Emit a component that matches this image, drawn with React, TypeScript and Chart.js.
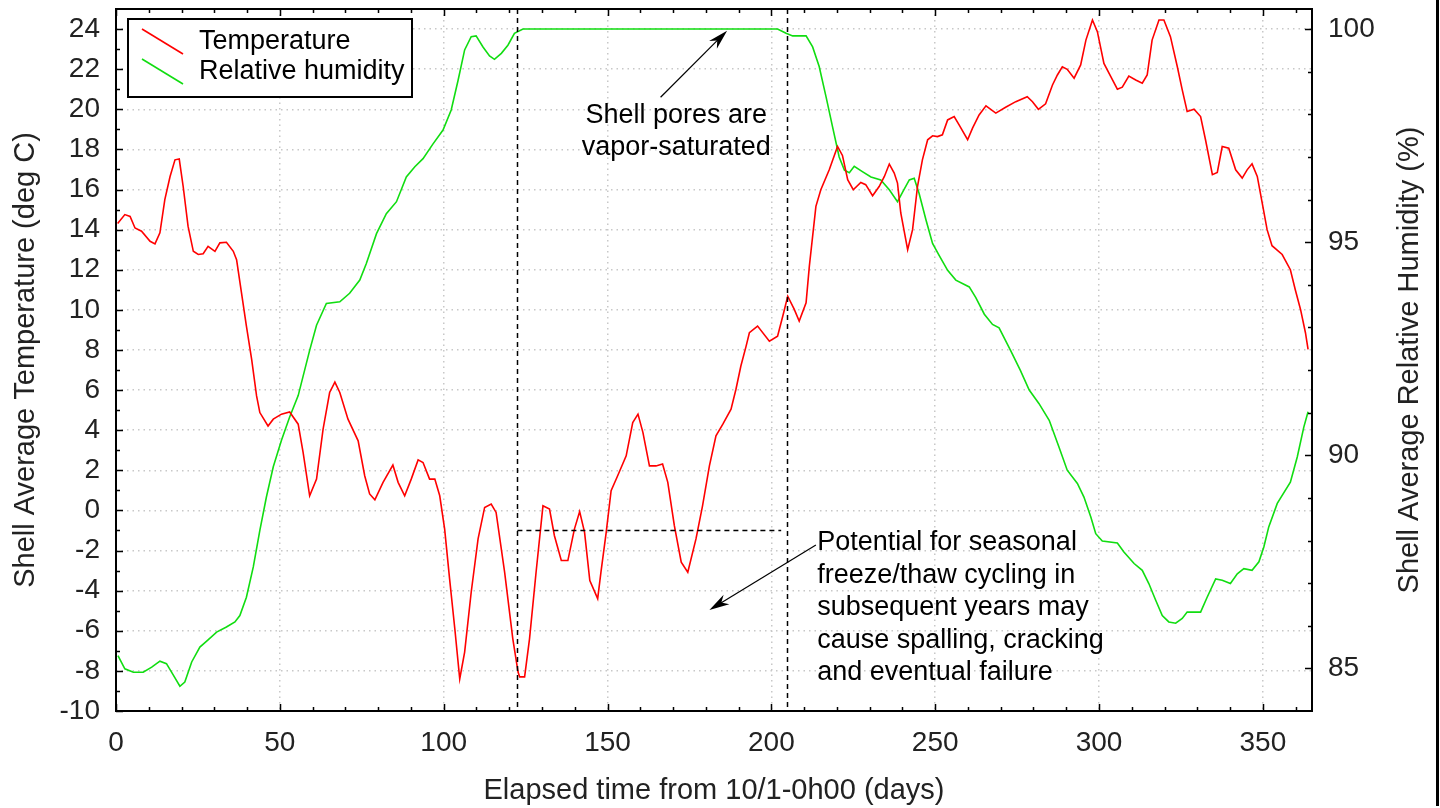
import React, { useEffect, useRef } from "react";
import { Chart, registerables } from "chart.js";

Chart.register(...registerables);

// ---------- data ----------
const tempDays = [
  0.5, 2.7, 4.3, 5.8, 7.8, 10.4, 11.9, 13.4, 14.9, 16.5, 18.0, 19.3, 20.5, 22.0, 23.6, 25.1, 26.6, 28.1, 30.2, 31.7,
  33.7, 35.8, 36.8, 38.3, 39.8, 41.4, 42.9, 43.9, 46.4, 48.0, 50.5, 53.0, 55.6, 57.1, 59.1, 61.2, 63.2, 65.2, 66.8, 68.3,
  70.8, 73.9, 75.9, 77.4, 79.0, 81.5, 84.5, 86.1, 88.1, 90.1, 92.2, 93.7, 95.7, 97.3, 98.8, 100.3, 101.8, 103.4, 104.9, 106.4,
  108.4, 110.5, 112.5, 114.5, 116.0, 118.6, 121.1, 122.7, 123.2, 124.7, 126.2, 128.2, 130.3, 132.3, 133.8, 135.9, 137.9, 139.9, 141.5, 143.0,
  144.6, 147.0, 148.0, 149.6, 151.1, 153.1, 155.7, 157.7, 159.3, 160.8, 162.8, 164.8, 166.8, 168.4, 170.4, 172.5, 174.5, 177.0, 179.0, 181.1,
  183.1, 185.2, 187.7, 189.2, 190.7, 192.3, 193.3, 195.8, 199.4, 201.9, 203.5, 205.0, 207.0, 208.5, 210.6, 211.6, 213.6, 215.1, 217.7, 220.2,
  221.7, 223.3, 225.0, 227.3, 228.8, 230.9, 232.9, 234.5, 236.0, 237.5, 238.5, 239.5, 241.6, 243.1, 244.6, 246.1, 247.7, 249.2, 250.7, 252.2,
  253.8, 255.8, 257.3, 259.9, 261.4, 263.4, 265.5, 268.5, 271.5, 274.6, 278.1, 279.7, 281.5, 283.7, 285.8, 287.3, 288.8, 290.3, 292.4, 294.4,
  296.0, 298.0, 299.5, 301.5, 303.6, 305.6, 307.1, 309.1, 311.2, 313.2, 314.7, 316.2, 318.3, 319.8, 321.8, 323.9, 325.4, 326.9, 329.0, 331.0,
  332.5, 334.6, 336.1, 337.6, 339.6, 341.7, 343.7, 345.2, 346.7, 348.3, 349.8, 351.3, 352.8, 355.9, 358.4, 359.9, 361.5, 363.0, 363.8,
];
const tempValues = [
  14.3, 14.75, 14.66, 14.08, 13.92, 13.42, 13.29, 13.84, 15.5, 16.65, 17.48, 17.52, 16.15, 14.16, 12.92, 12.76, 12.8, 13.17, 12.92, 13.34,
  13.37, 12.92, 12.5, 10.85, 9.19, 7.53, 5.71, 4.88, 4.21, 4.55, 4.8, 4.91, 4.3, 2.89, 0.73, 1.56, 4.05, 5.88, 6.4, 5.88,
  4.55, 3.47, 1.73, 0.82, 0.53, 1.4, 2.26, 1.4, 0.73, 1.56, 2.52, 2.39, 1.56, 1.56, 0.73, -0.93, -3.4, -5.9, -8.4, -7.06,
  -4.08, -1.42, 0.15, 0.32, -0.1, -3.08, -6.4, -8.06, -8.3, -8.3, -6.4, -3.08, 0.23, 0.07, -1.26, -2.5, -2.5, -0.93, -0.06, -1.09,
  -3.5, -4.4, -3.08, -1.09, 0.98, 1.73, 2.72, 4.38, 4.8, 3.89, 2.22, 2.22, 2.31, 1.4, -0.76, -2.58, -3.08, -1.42, 0.23, 2.22,
  3.72, 4.3, 5.05, 6.04, 7.2, 8.19, 8.86, 9.19, 8.44, 8.69, 9.69, 10.68, 10.02, 9.44, 10.35, 12.18, 15.16, 15.99, 17.0, 18.15,
  17.7, 16.49, 15.99, 16.35, 16.24, 15.69, 16.15, 16.65, 17.27, 16.82, 16.32, 14.83, 13.0, 14.0, 16.15, 17.48, 18.48, 18.68, 18.64, 18.73,
  19.47, 19.64, 19.22, 18.48, 19.06, 19.72, 20.17, 19.81, 20.1, 20.38, 20.63, 20.38, 20.0, 20.27, 21.21, 21.71, 22.12, 21.99, 21.55, 22.21,
  23.45, 24.45, 23.87, 22.29, 21.63, 21.0, 21.1, 21.66, 21.46, 21.3, 21.71, 23.45, 24.45, 24.45, 23.62, 22.12, 20.97, 19.89, 20.0, 19.64,
  18.48, 16.74, 16.85, 18.14, 18.06, 16.98, 16.57, 16.98, 17.28, 16.65, 15.33, 14.0, 13.2, 12.76, 12.0, 11.0, 10.02, 8.86, 8.03,
];

const rhDays = [
  0.6, 2.7, 5.3, 8.3, 10.9, 13.4, 15.4, 17.5, 19.5, 21.0, 23.1, 25.6, 28.1, 30.7, 33.7, 36.3, 37.8, 39.8, 41.9, 43.9,
  45.9, 48.0, 50.5, 53.0, 55.6, 59.1, 61.2, 64.2, 68.3, 71.3, 74.4, 76.4, 79.5, 82.5, 85.6, 88.6, 91.2, 93.7, 96.7, 99.8,
  102.3, 104.4, 106.4, 108.4, 109.9, 112.0, 114.0, 115.5, 117.6, 119.6, 121.6, 124.2, 201.9, 204.5, 206.5, 210.6, 212.6, 214.6, 216.7, 218.7,
  220.7, 222.3, 223.8, 225.3, 227.9, 230.4, 233.4, 236.0, 238.5, 240.1, 242.1, 243.6, 245.1, 247.2, 249.2, 251.2, 253.8, 256.3, 260.4, 262.4,
  265.0, 267.5, 269.5, 273.0, 276.0, 278.7, 281.7, 284.8, 287.8, 290.3, 293.4, 295.4, 297.5, 299.0, 301.0, 305.6, 307.6, 310.7, 313.2, 315.2,
  317.3, 319.3, 321.3, 323.4, 325.4, 326.9, 331.0, 333.0, 335.6, 337.6, 340.1, 342.2, 344.2, 346.7, 348.8, 350.3, 351.8, 354.4, 358.4, 360.5,
  362.5, 363.8,
];
const rhValues = [
  85.3, 84.99, 84.91, 84.91, 85.03, 85.17, 85.11, 84.84, 84.58, 84.68, 85.15, 85.5, 85.67, 85.85, 85.97, 86.09, 86.24, 86.67, 87.38, 88.24,
  89.02, 89.73, 90.35, 90.9, 91.4, 92.46, 93.05, 93.56, 93.6, 93.8, 94.11, 94.5, 95.2, 95.67, 95.95, 96.53, 96.77, 96.96, 97.3, 97.63,
  98.1, 98.8, 99.51, 99.82, 99.84, 99.58, 99.37, 99.29, 99.43, 99.62, 99.9, 100, 100, 99.9, 99.84, 99.84, 99.58, 99.12, 98.41, 97.7,
  97.0, 96.69, 96.63, 96.78, 96.65, 96.53, 96.46, 96.23, 95.95, 96.18, 96.46, 96.5, 96.14, 95.52, 94.97, 94.69, 94.34, 94.11, 93.95, 93.7,
  93.31, 93.07, 92.99, 92.46, 91.99, 91.53, 91.21, 90.82, 90.19, 89.65, 89.34, 89.02, 88.55, 88.16, 87.99, 87.94, 87.73, 87.46, 87.3, 86.99,
  86.6, 86.24, 86.09, 86.06, 86.17, 86.32, 86.32, 86.67, 87.1, 87.07, 86.99, 87.22, 87.34, 87.3, 87.5, 87.85, 88.32, 88.87, 89.37, 89.96,
  90.66, 91.02,
];

const xTickValues = [0, 50, 100, 150, 200, 250, 300, 350];
const tempTickValues = [-10, -8, -6, -4, -2, 0, 2, 4, 6, 8, 10, 12, 14, 16, 18, 20, 22, 24];
const rhTickValues = [85, 90, 95, 100];

const seriesLabels = ["Temperature", "Relative humidity"];
const xTitle = "Elapsed time from 10/1-0h00 (days)";
const yTitle = "Shell Average Temperature (deg C)";
const y2Title = "Shell Average Relative Humidity (%)";

// annotation anchors (data units)
const saturatedStart = 122.5;
const saturatedEnd = 204.7;
const freezeLevel = -1;
const freezeLineEnd = 203;
const note1Lines = ["Shell pores are", "vapor-saturated"];
const note1Anchor = { x: 171, y: 19.7 };
const note1Arrow = { fromX: 166.2, fromY: 20.6, toX: 186.5, toY: 23.92 };
const note2Lines = [
  "Potential for seasonal",
  "freeze/thaw cycling in",
  "subsequent years may",
  "cause spalling, cracking",
  "and eventual failure",
];
const note2Anchor = { x: 214, y: -1.62 };
const note2Arrow = { fromX: 213.6, fromY: -1.72, toX: 181.1, toY: -4.96 };

const FONT = "'Liberation Sans', Arial, sans-serif";
const RED = "#ff0000";
const GREEN = "#11dd11";

function drawArrow(ctx: CanvasRenderingContext2D, x1: number, y1: number, x2: number, y2: number) {
  const ang = Math.atan2(y2 - y1, x2 - x1);
  const len = 20;
  const hw = 5.5;
  ctx.save();
  ctx.strokeStyle = "#000";
  ctx.fillStyle = "#000";
  ctx.lineWidth = 1.2;
  ctx.beginPath();
  ctx.moveTo(x1, y1);
  ctx.lineTo(x2 - Math.cos(ang) * len * 0.6, y2 - Math.sin(ang) * len * 0.6);
  ctx.stroke();
  const bx = x2 - Math.cos(ang) * len;
  const by = y2 - Math.sin(ang) * len;
  const nx = -Math.sin(ang);
  const ny = Math.cos(ang);
  const mx = x2 - Math.cos(ang) * len * 0.7;
  const my = y2 - Math.sin(ang) * len * 0.7;
  ctx.beginPath();
  ctx.moveTo(x2, y2);
  ctx.lineTo(bx + nx * hw, by + ny * hw);
  ctx.lineTo(mx, my);
  ctx.lineTo(bx - nx * hw, by - ny * hw);
  ctx.closePath();
  ctx.fill();
  ctx.restore();
}

const decorPlugin = {
  id: "decor",
  afterDatasetsDraw(chart: any) {
    const ctx: CanvasRenderingContext2D = chart.ctx;
    const xs = chart.scales.x;
    const ys = chart.scales.y;
    const y2s = chart.scales.y2;
    const { left, right, top, bottom } = chart.chartArea;

    ctx.save();
    // dashed annotation lines
    ctx.strokeStyle = "#000";
    ctx.lineWidth = 1.5;
    ctx.setLineDash([5, 4]);
    for (const d of [saturatedStart, saturatedEnd]) {
      const px = Math.round(xs.getPixelForValue(d)) + 0.5;
      ctx.beginPath();
      ctx.moveTo(px, top);
      ctx.lineTo(px, bottom);
      ctx.stroke();
    }
    const hy = Math.round(ys.getPixelForValue(freezeLevel)) + 0.5;
    ctx.beginPath();
    ctx.moveTo(xs.getPixelForValue(saturatedStart), hy);
    ctx.lineTo(xs.getPixelForValue(freezeLineEnd), hy);
    ctx.stroke();
    ctx.setLineDash([]);

    // frame
    ctx.lineWidth = 2;
    ctx.strokeStyle = "#000";
    ctx.strokeRect(left, top, right - left, bottom - top);

    // inward ticks
    ctx.lineWidth = 1.5;
    ctx.beginPath();
    for (let v = 0; v <= 365; v += 10) {
      const px = Math.round(xs.getPixelForValue(v)) + 0.5;
      const l = v % 50 === 0 ? 7 : 4;
      ctx.moveTo(px, bottom);
      ctx.lineTo(px, bottom - l);
      ctx.moveTo(px, top);
      ctx.lineTo(px, top + l);
    }
    for (let v = -10; v <= 24; v += 1) {
      const py = Math.round(ys.getPixelForValue(v)) + 0.5;
      const l = v % 2 === 0 ? 7 : 4;
      ctx.moveTo(left, py);
      ctx.lineTo(left + l, py);
    }
    for (let v = 85; v <= 100; v += 1) {
      const py = Math.round(y2s.getPixelForValue(v)) + 0.5;
      const l = v % 5 === 0 ? 7 : 4;
      ctx.moveTo(right, py);
      ctx.lineTo(right - l, py);
    }
    ctx.stroke();

    // notes
    ctx.fillStyle = "#000";
    ctx.font = `27px ${FONT}`;
    ctx.textBaseline = "middle";
    ctx.textAlign = "center";
    const n1x = xs.getPixelForValue(note1Anchor.x);
    const n1y = ys.getPixelForValue(note1Anchor.y);
    note1Lines.forEach((t, i) => ctx.fillText(t, n1x, n1y + i * 32));
    drawArrow(
      ctx,
      xs.getPixelForValue(note1Arrow.fromX),
      ys.getPixelForValue(note1Arrow.fromY),
      xs.getPixelForValue(note1Arrow.toX),
      ys.getPixelForValue(note1Arrow.toY)
    );
    ctx.textAlign = "left";
    const n2x = xs.getPixelForValue(note2Anchor.x);
    const n2y = ys.getPixelForValue(note2Anchor.y);
    note2Lines.forEach((t, i) => ctx.fillText(t, n2x, n2y + i * 32.5));
    drawArrow(
      ctx,
      xs.getPixelForValue(note2Arrow.fromX),
      ys.getPixelForValue(note2Arrow.fromY),
      xs.getPixelForValue(note2Arrow.toX),
      ys.getPixelForValue(note2Arrow.toY)
    );

    // legend
    const lx = left + 12;
    const ly = top + 10;
    const lw = 284;
    const lh = 78;
    ctx.fillStyle = "#fff";
    ctx.fillRect(lx, ly, lw, lh);
    ctx.strokeStyle = "#000";
    ctx.lineWidth = 2;
    ctx.strokeRect(lx, ly, lw, lh);
    chart.data.datasets.forEach((ds: any, i: number) => {
      const cy = ly + 23 + i * 30;
      ctx.strokeStyle = ds.borderColor;
      ctx.lineWidth = 1.6;
      ctx.beginPath();
      ctx.moveTo(lx + 14, cy - 13);
      ctx.lineTo(lx + 55, cy + 12);
      ctx.stroke();
      ctx.fillStyle = "#000";
      ctx.textAlign = "left";
      ctx.font = `27px ${FONT}`;
      ctx.fillText(ds.label, lx + 71, cy);
    });

    // right axis title (reads bottom-to-top)
    ctx.save();
    ctx.translate(chart.width - 30, (top + bottom) / 2);
    ctx.rotate(-Math.PI / 2);
    ctx.textAlign = "center";
    ctx.textBaseline = "middle";
    ctx.font = `29px ${FONT}`;
    ctx.fillStyle = "#222";
    ctx.fillText(y2Title, 0, 0);
    ctx.restore();

    ctx.restore();
  },
};

const noEdgePadding = (s: any) => {
  s.paddingTop = 0;
  s.paddingBottom = 0;
  s.paddingLeft = 0;
  s.paddingRight = 0;
};

export default function App() {
  const canvasRef = useRef<HTMLCanvasElement | null>(null);

  useEffect(() => {
    if (!canvasRef.current) return;
    const gridCommon = {
      color: "#c8c8c8",
      lineWidth: 1.5,
      drawTicks: false,
    };
    const gridDash = { display: false, dash: [1.5, 4] };
    const chart = new Chart(canvasRef.current, {
      type: "line",
      data: {
        datasets: [
          {
            label: seriesLabels[0],
            data: tempDays.map((d, i) => ({ x: d, y: tempValues[i] })),
            borderColor: RED,
            borderWidth: 1.6,
            pointRadius: 0,
            tension: 0,
            yAxisID: "y",
          },
          {
            label: seriesLabels[1],
            data: rhDays.map((d, i) => ({ x: d, y: rhValues[i] })),
            borderColor: GREEN,
            borderWidth: 1.6,
            pointRadius: 0,
            tension: 0,
            yAxisID: "y2",
          },
        ],
      },
      options: {
        animation: false,
        responsive: true,
        maintainAspectRatio: false,
        layout: { padding: { top: 9, left: 0, right: 0, bottom: 0 } },
        plugins: { legend: { display: false }, tooltip: { enabled: false } },
        scales: {
          x: {
            type: "linear",
            min: 0,
            max: 365,
            afterBuildTicks: (s: any) => {
              s.ticks = xTickValues.map((v) => ({ value: v }));
            },
            afterFit: (s: any) => {
              s.height = 97;
              noEdgePadding(s);
            },
            grid: gridCommon,
            border: gridDash,
            ticks: { color: "#222", font: { family: FONT, size: 28 }, padding: 15, maxRotation: 0 },
            title: {
              display: true,
              text: xTitle,
              color: "#222",
              font: { family: FONT, size: 29, lineHeight: 1.2 },
              padding: { top: 0, bottom: 0 },
            },
          },
          y: {
            type: "linear",
            position: "left",
            min: -10,
            max: 25,
            afterBuildTicks: (s: any) => {
              s.ticks = tempTickValues.map((v) => ({ value: v }));
            },
            afterFit: (s: any) => {
              s.width = 116;
              noEdgePadding(s);
            },
            grid: gridCommon,
            border: gridDash,
            ticks: { color: "#222", font: { family: FONT, size: 28 }, padding: 16 },
            title: {
              display: true,
              text: yTitle,
              color: "#222",
              font: { family: FONT, size: 29, lineHeight: 1.2 },
              padding: { top: 9, bottom: 0 },
            },
          },
          y2: {
            type: "linear",
            position: "right",
            min: 84,
            max: 84 + (35 * 16) / 34,
            afterBuildTicks: (s: any) => {
              s.ticks = rhTickValues.map((v) => ({ value: v }));
            },
            afterFit: (s: any) => {
              s.width = 128;
              noEdgePadding(s);
            },
            grid: { display: false, drawTicks: false },
            border: { display: false },
            ticks: { color: "#222", font: { family: FONT, size: 28 }, padding: 16 },
          },
        },
      },
      plugins: [decorPlugin],
    } as any);
    return () => chart.destroy();
  }, []);

  return (
    <div
      style={{
        position: "absolute",
        left: 0,
        top: 0,
        width: 1440,
        height: 808,
        background: "#fff",
        overflow: "hidden",
      }}
    >
      <canvas ref={canvasRef} />
      <div
        style={{
          position: "absolute",
          left: 1436,
          top: 0,
          width: 3,
          height: 806,
          background: "#000",
        }}
      />
    </div>
  );
}
